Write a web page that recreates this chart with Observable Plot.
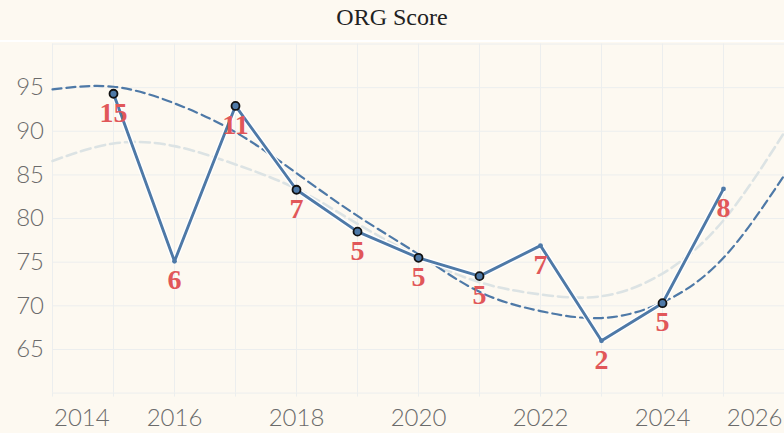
<!DOCTYPE html>
<html>
<head>
<meta charset="utf-8">
<script src="https://cdn.jsdelivr.net/npm/d3@7"></script>
<script src="https://cdn.jsdelivr.net/npm/@observablehq/plot@0.6"></script>
<style>
  html, body { margin: 0; padding: 0; background: #fdf9f1; }
  #title {
    height: 40px; line-height: 34px; text-align: center;
    font-family: "Liberation Serif", "DejaVu Serif", serif; font-size: 24px; color: #222;
    border-bottom: 2px solid #ffffff; background: #fdf9f1;
  }
  #chart svg { display: block; }
</style>
</head>
<body>
<div id="title">ORG Score</div>
<div id="chart"></div>
<script>
const years = [2015, 2016, 2017, 2018, 2019, 2020, 2021, 2022, 2023, 2024, 2025];
const scores = [94.3, 75.1, 92.9, 83.3, 78.5, 75.5, 73.4, 76.9, 66.0, 70.3, 83.4];
const ranks = [15, 6, 11, 7, 5, 5, 5, 7, 2, 5, 8];
const outlined = [true, false, true, true, true, true, true, false, false, true, false];

const trendYears = [2014, 2015, 2016, 2017, 2018, 2019, 2020, 2021, 2022, 2023, 2024, 2025, 2026];
const trendDark = [94.8, 95.1, 93.2, 89.9, 85.2, 80.3, 75.9, 71.6, 69.4, 68.6, 70.4, 75.5, 85.0];
const trendLight = [86.6, 88.6, 88.3, 86.2, 83.4, 79.4, 75.6, 72.7, 71.3, 71.1, 73.7, 79.8, 89.9];

const gridYears = [2014, 2015, 2016, 2017, 2018, 2019, 2020, 2021, 2022, 2023, 2024, 2025, 2026];
const xLabelMid = [2016, 2018, 2020, 2022, 2024];
const yLabels = [65, 70, 75, 80, 85, 90, 95];
const yGrid = [60, 65, 70, 75, 80, 85, 90, 95, 100];

const data = years.map((y, i) => ({year: y, score: scores[i], rank: ranks[i], outlined: outlined[i]}));
const trend = trendYears.map((y, i) => ({year: y, dark: trendDark[i], light: trendLight[i]}));

const blue = "#4e79a7";
const red = "#e15759";
const grid = "#eceeee";
const axisText = "#6b6b6b";
const sans = "Lato, 'Open Sans', sans-serif";
const axisFont = {fontSize: 24, fontWeight: 300, fill: axisText, label: null};

const chart = Plot.plot({
  width: 784,
  height: 391,
  marginTop: 1.5,
  marginBottom: 40.4,
  marginLeft: 52,
  marginRight: 0,
  style: {background: "#fdf9f1", fontFamily: sans, overflow: "visible"},
  x: {domain: [2014, 2026], label: null},
  y: {domain: [60, 100], label: null},
  marks: [
    Plot.gridX(gridYears, {stroke: grid, strokeOpacity: 1, strokeWidth: 1}),
    Plot.gridY(yGrid, {stroke: grid, strokeOpacity: 1, strokeWidth: 1}),
    Plot.axisX(gridYears, {tickSize: 4, stroke: grid, tickFormat: () => "", label: null}),
    Plot.axisX(xLabelMid, {...axisFont, tickSize: 0, tickPadding: 16, tickFormat: d => String(d)}),
    Plot.axisX([2014], {...axisFont, tickSize: 0, tickPadding: 16, textAnchor: "start", dx: 1.5, tickFormat: d => String(d)}),
    Plot.axisX([2026], {...axisFont, tickSize: 0, tickPadding: 16, textAnchor: "end", dx: -2, tickFormat: d => String(d)}),
    Plot.axisY(yLabels, {...axisFont, tickSize: 0, tickPadding: 8.5, tickFormat: d => String(d)}),
    Plot.line(trend, {x: "year", y: "light", stroke: "#dce3e4", strokeWidth: 2.6, strokeDasharray: "10,5", curve: "natural"}),
    Plot.line(trend, {x: "year", y: "dark", stroke: blue, strokeWidth: 2.2, strokeDasharray: "9,5", curve: "natural"}),
    Plot.line(data, {x: "year", y: "score", stroke: "#ffffff", strokeWidth: 5.5}),
    Plot.line(data, {x: "year", y: "score", stroke: blue, strokeWidth: 2.9}),
    Plot.dot(data.filter(d => !d.outlined), {x: "year", y: "score", r: 2.4, fill: blue, stroke: null}),
    Plot.dot(data.filter(d => d.outlined), {x: "year", y: "score", r: 4, fill: blue, stroke: "#111", strokeWidth: 1.8}),
    Plot.text(data, {x: "year", y: "score", text: d => String(d.rank), dy: 19, fill: red,
      fontSize: 28, fontWeight: "bold", fontFamily: "'Liberation Serif', 'DejaVu Serif', serif"})
  ]
});
document.getElementById("chart").appendChild(chart);
</script>
</body>
</html>
